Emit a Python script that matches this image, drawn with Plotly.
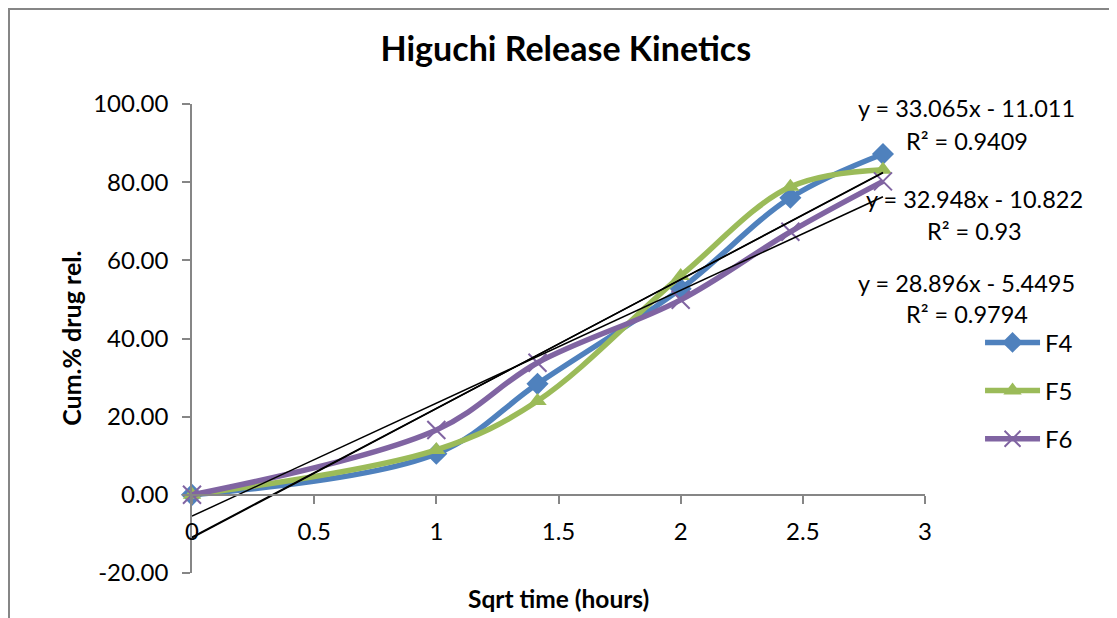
import plotly.graph_objects as go

# ---- data ----
sqrt_time = [0, 1, 1.414, 2, 2.449, 2.828]
f4 = [0, 10.5, 28.4, 52.7, 76.0, 87.2]
f5 = [0, 11.5, 24.0, 56.0, 78.8, 83.2]
f6 = [0, 16.6, 33.8, 49.9, 67.3, 80.2]
series_names = ["F4", "F5", "F6"]
slopes = [33.065, 32.948, 28.896]
intercepts = [-11.011, -10.822, -5.4495]
r2_values = ["0.9409", "0.93", "0.9794"]
x_ticks = [0, 0.5, 1, 1.5, 2, 2.5, 3]
y_ticks = [-20, 0, 20, 40, 60, 80, 100]

colors = ["#4F81BD", "#9BBB59", "#8064A2"]
symbols = ["diamond", "triangle-up", "x-thin-open"]
marker_sizes = [17, 16, 18]
FONT = "Lato"

W, H = 1109, 610
L, T, PW, PH = 184, 96, 733, 469

fig = go.Figure()
for i, (name, ys) in enumerate(zip(series_names, [f4, f5, f6])):
    marker = dict(symbol=symbols[i], size=marker_sizes[i], color=colors[i])
    if symbols[i] == "x-thin-open":
        marker.update(line=dict(width=2, color=colors[i]))
    fig.add_trace(go.Scatter(
        x=sqrt_time, y=ys, name=name, mode="lines+markers",
        line=dict(color=colors[i], width=5.5, shape="spline", smoothing=1.0),
        marker=marker, legendgroup=name, cliponaxis=False))

# linear trendlines
x_end = [sqrt_time[0], sqrt_time[-1]]
for m, b in zip(slopes, intercepts):
    fig.add_trace(go.Scatter(
        x=x_end, y=[m * x + b for x in x_end], mode="lines",
        line=dict(color="black", width=1.5), showlegend=False,
        hoverinfo="skip", cliponaxis=False))

# equation labels
eq_pos = [(1.057, 0.992, 0.922), (1.067, 0.798, 0.730), (1.057, 0.619, 0.553)]
annotations = []
for (px, py1, py2), m, b, r2 in zip(eq_pos, slopes, intercepts, r2_values):
    sign = "-" if b < 0 else "+"
    annotations.append(dict(x=px, y=py1, xref="paper", yref="paper",
                            text=f"y = {m}x {sign} {abs(b)}", showarrow=False,
                            xanchor="center", yanchor="middle",
                            font=dict(family=FONT, size=23.5, color="black")))
    annotations.append(dict(x=px, y=py2, xref="paper", yref="paper",
                            text=f"R² = {r2}", showarrow=False,
                            xanchor="center", yanchor="middle",
                            font=dict(family=FONT, size=23.5, color="black")))
annotations.append(dict(x=0.5, y=-0.055, xref="paper", yref="paper",
                        text="<b>Sqrt time (hours)</b>", showarrow=False,
                        xanchor="center", yanchor="middle",
                        font=dict(family=FONT, size=24.5, color="black")))
annotations.append(dict(x=-0.166, y=0.5, xref="paper", yref="paper",
                        text="<b>Cum.% drug rel.</b>", showarrow=False,
                        textangle=-90, xanchor="center", yanchor="middle",
                        font=dict(family=FONT, size=25, color="black")))

y_min, y_max = y_ticks[0], y_ticks[-1]
xaxis_pos = (0 - y_min) / (y_max - y_min)

fig.update_layout(
    width=W, height=H,
    margin=dict(l=L, r=W - L - PW, t=T, b=H - T - PH, autoexpand=False),
    paper_bgcolor="white", plot_bgcolor="white",
    title=dict(text="<b>Higuchi Release Kinetics</b>", x=0.503, xanchor="center",
               y=0.932, yanchor="middle",
               font=dict(family=FONT, size=34, color="black")),
    xaxis=dict(range=[x_ticks[0], x_ticks[-1]], tickvals=x_ticks,
               ticktext=[f"{v:g}" for v in x_ticks], automargin=False,
               showgrid=False, zeroline=False, showline=True,
               linecolor="#868686", linewidth=1.5,
               ticks="outside", ticklen=8, tickcolor="#868686", tickwidth=1.5,
               anchor="free", position=xaxis_pos, ticklabelstandoff=8,
               tickfont=dict(family=FONT, size=24, color="black")),
    yaxis=dict(range=[y_min, y_max], tickvals=y_ticks,
               ticktext=[f"{v:.2f}" for v in y_ticks], automargin=False,
               showgrid=False, zeroline=False, showline=True,
               linecolor="#868686", linewidth=1.5,
               ticks="outside", ticklen=8, tickcolor="#868686", tickwidth=1.5,
               ticklabelstandoff=9,
               tickfont=dict(family=FONT, size=24, color="black")),
    legend=dict(xref="container", yref="container", x=0.8765, y=0.488,
                xanchor="left", yanchor="top",
                tracegroupgap=14, itemwidth=55,
                font=dict(family=FONT, size=24, color="black"),
                bgcolor="rgba(0,0,0,0)"),
    annotations=annotations,
    shapes=[
        dict(type="line", xref="paper", yref="paper",
             x0=-L / PW, x1=(W - L) / PW,
             y0=(T + PH - 1) / PH, y1=(T + PH - 1) / PH,
             line=dict(color="#868686", width=2)),
        dict(type="line", xref="paper", yref="paper",
             x0=(1 - L) / PW, x1=(1 - L) / PW,
             y0=(T + PH) / PH, y1=-(H - T - PH) / PH,
             line=dict(color="#868686", width=2)),
    ],
)

fig.write_html("out.html")
